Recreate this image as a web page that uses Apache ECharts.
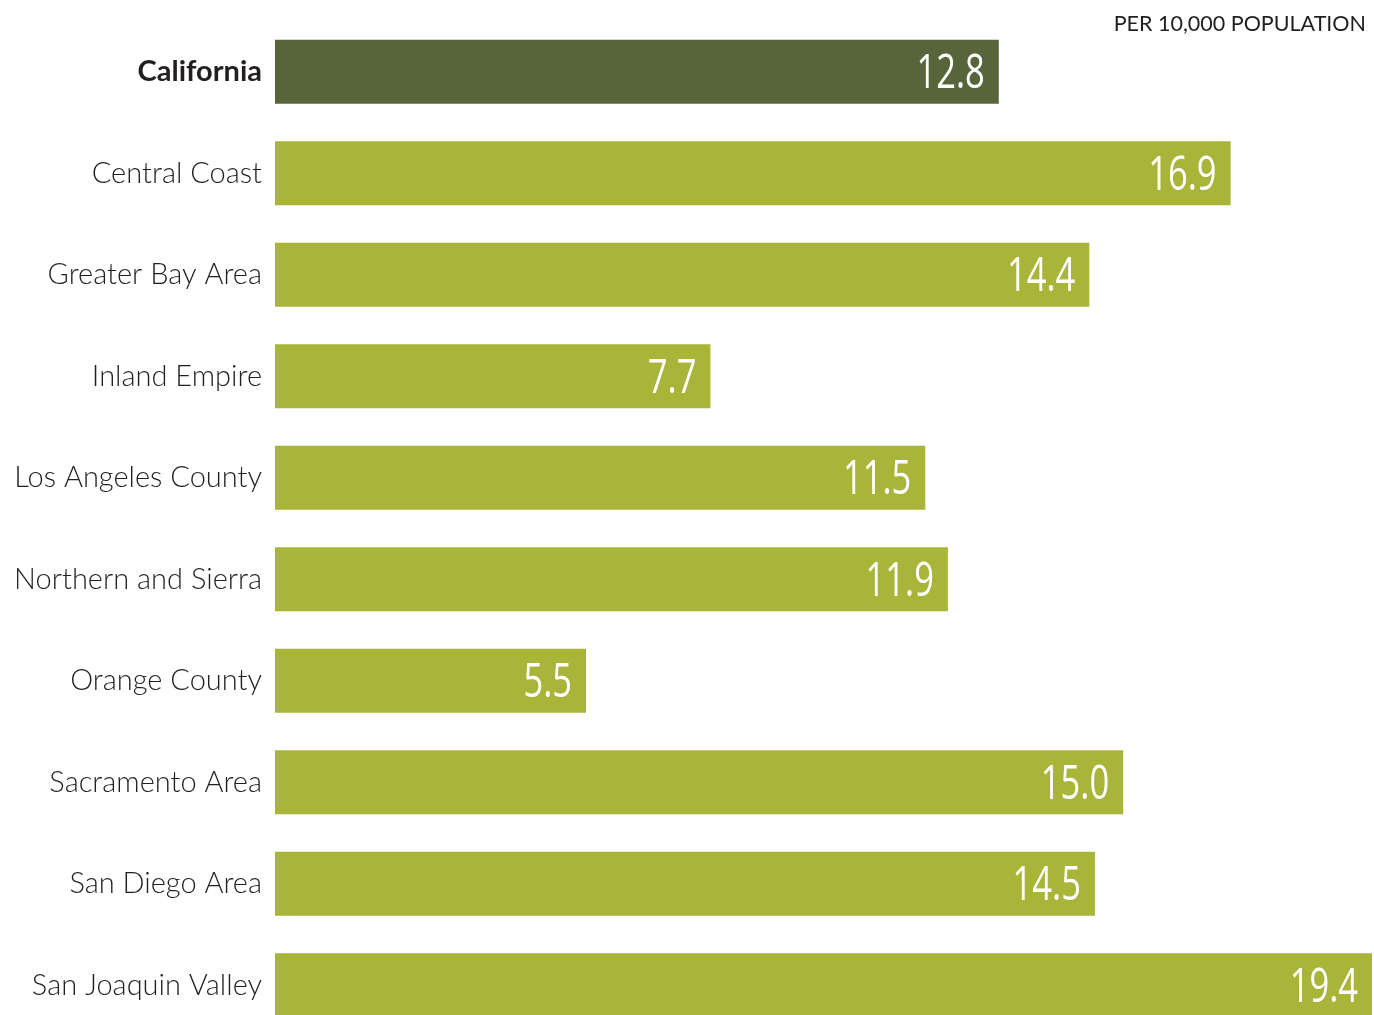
<!DOCTYPE html>
<html>
<head>
<meta charset="utf-8">
<script src="https://cdn.jsdelivr.net/npm/echarts@6/dist/echarts.min.js"></script>
<style>
  html, body { margin: 0; padding: 0; background: #ffffff; overflow: hidden; }
  /* the last row runs past the bottom edge of the page */
  #chart { width: 1374px; height: 1036px; }
</style>
</head>
<body>
<div id="chart"></div>
<script>
// Rate per 10,000 population, by region
const regions = [
  'California',
  'Central Coast',
  'Greater Bay Area',
  'Inland Empire',
  'Los Angeles County',
  'Northern and Sierra',
  'Orange County',
  'Sacramento Area',
  'San Diego Area',
  'San Joaquin Valley'
];
const rates = [12.8, 16.9, 14.4, 7.7, 11.5, 11.9, 5.5, 15.0, 14.5, 19.4];
const unitLabel = 'PER 10,000 POPULATION';

const stateColor = '#58643a';
const regionColor = '#a8b538';

const chart = echarts.init(document.getElementById('chart'));

// Value labels: narrow white numerals set just inside the end of each bar
function renderValueLabel(params, api) {
  const v = api.value(0);
  const idx = api.value(1);
  const end = api.coord([v, idx]);
  return {
    type: 'text',
    x: end[0] - 14,
    y: end[1] + 3,
    scaleX: 0.72,
    originX: 0,
    originY: 0,
    silent: true,
    style: {
      text: v.toFixed(1),
      font: '400 48px "Open Sans"',
      fill: '#ffffff',
      align: 'right',
      verticalAlign: 'middle'
    }
  };
}

chart.setOption({
  animation: false,
  title: {
    text: unitLabel,
    right: 3,
    top: 8,
    textStyle: {
      fontFamily: 'Lato',
      fontWeight: 'normal',
      fontSize: 21.5,
      color: '#231f20'
    }
  },
  grid: {
    left: 275,
    right: 2,
    top: 21,
    bottom: 0,
    containLabel: false
  },
  xAxis: {
    type: 'value',
    min: 0,
    max: 19.4,
    show: false
  },
  yAxis: {
    type: 'category',
    inverse: true,
    data: regions,
    axisLine: { show: false },
    axisTick: { show: false },
    splitLine: { show: false },
    axisLabel: {
      margin: 13,
      fontFamily: 'Lato',
      fontSize: 29,
      fontWeight: 300,
      color: '#231f20',
      formatter: function (v) {
        return v === 'California' ? '{b|' + v + '}' : v;
      },
      rich: {
        b: {
          fontFamily: 'Lato',
          fontSize: 29,
          fontWeight: 'bold',
          color: '#231f20'
        }
      }
    }
  },
  series: [{
    type: 'bar',
    data: rates.map(function (v, i) {
      return {
        value: v,
        itemStyle: { color: i === 0 ? stateColor : regionColor }
      };
    }),
    barWidth: 64
  }, {
    type: 'custom',
    data: rates.map(function (v, i) { return [v, i]; }),
    encode: { x: 0, y: 1 },
    renderItem: renderValueLabel,
    z: 5
  }]
});
</script>
</body>
</html>
